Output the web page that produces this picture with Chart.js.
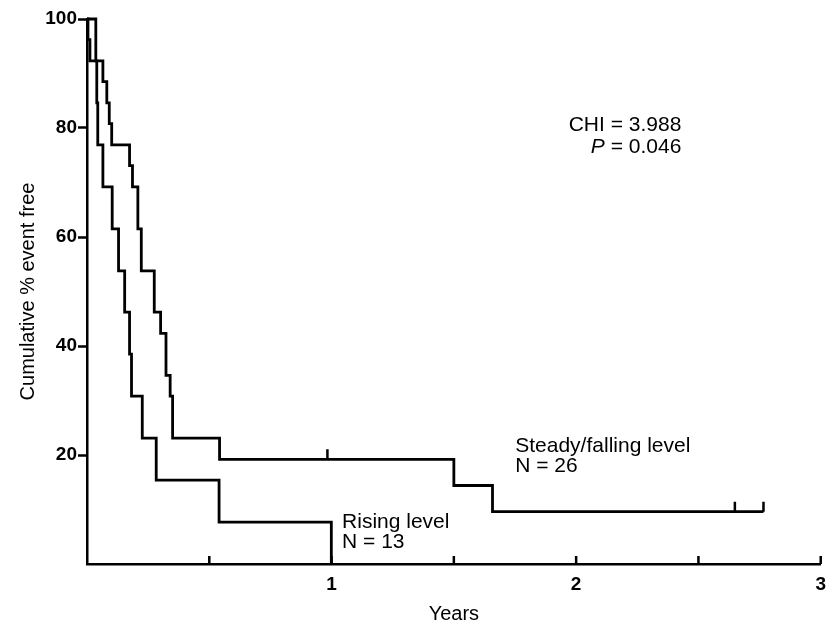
<!DOCTYPE html>
<html>
<head>
<meta charset="utf-8">
<script src="https://cdn.jsdelivr.net/npm/chart.js@4.4.1/dist/chart.umd.min.js"></script>
<style>
  html, body { margin: 0; padding: 0; background: #fff; }
  #km { display: block; }
</style>
</head>
<body>
<canvas id="km" width="835" height="629"></canvas>
<script>
// Kaplan-Meier steps: time in years, cumulative % event free
const steadyYears = [0, 0.004, 0.012, 0.065, 0.081, 0.091, 0.101, 0.174, 0.186, 0.208, 0.222, 0.275, 0.301, 0.323, 0.340, 0.350, 0.542, 1.500, 1.658, 2.766];
const steadyPct   = [100, 96.2, 92.3, 88.5, 84.6, 80.8, 76.9, 73.1, 69.2, 61.5, 53.8, 46.2, 42.3, 34.6, 30.8, 23.1, 19.2, 14.4, 9.6, 9.6];

const risingYears = [0, 0.036, 0.040, 0.044, 0.065, 0.103, 0.129, 0.154, 0.174, 0.182, 0.226, 0.283, 0.540, 0.999];
const risingPct   = [100, 92.3, 84.6, 76.9, 69.2, 61.5, 53.8, 46.2, 38.5, 30.8, 23.1, 15.4, 7.7, 0];

// censored cases (small upward ticks on the steady/falling curve)
const censorYears = [0.983, 2.649, 2.766];
const censorPct   = [19.2, 9.6, 9.6];

const FONT = "'Liberation Sans', Arial, Helvetica, sans-serif";
Chart.defaults.font.family = FONT;
Chart.defaults.color = '#000';

// text placed in data units; each part is [text, italic]
const notes = [
  { x: 2.43, y: 79.4, align: 'right', parts: [['CHI = 3.988', false]] },
  { x: 2.43, y: 75.4, align: 'right', parts: [['P', true], [' = 0.046', false]] },
  { x: 1.751, y: 20.6, align: 'left', parts: [['Steady/falling level', false]] },
  { x: 1.751, y: 16.9, align: 'left', parts: [['N = 26', false]] },
  { x: 1.043, y: 6.6, align: 'left', parts: [['Rising level', false]] },
  { x: 1.043, y: 2.9, align: 'left', parts: [['N = 13', false]] },
];

function toPoints(xs, ys) {
  return xs.map((t, i) => ({ x: t, y: ys[i] }));
}

const kmExtras = {
  id: 'kmExtras',
  afterDatasetsDraw(chart) {
    const { ctx, scales: { x, y } } = chart;
    ctx.save();
    ctx.strokeStyle = '#000';
    ctx.lineWidth = 2.5;
    ctx.beginPath();
    // x ticks point up into the plot
    x.ticks.forEach((t) => {
      if (t.value === 0) return;
      const px = x.getPixelForValue(t.value);
      ctx.moveTo(px, y.bottom);
      ctx.lineTo(px, y.bottom - 8);
    });
    censorYears.forEach((t, i) => {
      const px = x.getPixelForValue(t);
      const py = y.getPixelForValue(censorPct[i]);
      ctx.moveTo(px, py);
      ctx.lineTo(px, py - 10);
    });
    ctx.stroke();

    ctx.fillStyle = '#000';
    ctx.textBaseline = 'alphabetic';
    ctx.textAlign = 'left';
    notes.forEach((n) => {
      const fonts = n.parts.map((p) => (p[1] ? 'italic ' : '') + '21px ' + FONT);
      const widths = n.parts.map((p, i) => { ctx.font = fonts[i]; return ctx.measureText(p[0]).width; });
      const total = widths.reduce((a, b) => a + b, 0);
      let px = x.getPixelForValue(n.x);
      if (n.align === 'right') px -= total;
      const py = y.getPixelForValue(n.y);
      n.parts.forEach((p, i) => {
        ctx.font = fonts[i];
        ctx.fillText(p[0], px, py);
        px += widths[i];
      });
    });
    ctx.restore();
  },
};

const lineStyle = {
  borderColor: '#000',
  borderWidth: 2.8,
  stepped: 'before',
  pointRadius: 0,
  fill: false,
  clip: false,
  borderJoinStyle: 'miter',
};

new Chart(document.getElementById('km'), {
  type: 'line',
  data: {
    datasets: [
      { label: 'Steady/falling level', data: toPoints(steadyYears, steadyPct), ...lineStyle },
      { label: 'Rising level', data: toPoints(risingYears, risingPct), ...lineStyle },
    ],
  },
  options: {
    responsive: false,
    animation: false,
    layout: { padding: { top: 19, right: 6, left: 0, bottom: 0 } },
    plugins: { legend: { display: false }, tooltip: { enabled: false } },
    scales: {
      x: {
        type: 'linear',
        min: 0,
        max: 3,
        grid: { display: false, drawTicks: false },
        border: { display: true, color: '#000', width: 2.5 },
        ticks: {
          stepSize: 0.5,
          autoSkip: false,
          maxRotation: 0,
          padding: 9,
          font: { size: 19, weight: 'bold' },
          callback: (v) => (Number.isInteger(v) && v > 0 ? String(v) : ''),
        },
        title: {
          display: true,
          text: 'Years',
          font: { size: 20 },
          padding: { top: 0, bottom: 3 },
        },
        afterFit: (s) => { s.height = 65; },
      },
      y: {
        min: 0,
        max: 100,
        grid: {
          drawOnChartArea: false,
          drawTicks: true,
          tickLength: 9,
          tickWidth: 2.5,
          tickColor: (c) => (c.tick && c.tick.value === 0 ? 'rgba(0,0,0,0)' : '#000'),
        },
        border: { display: true, color: '#000', width: 2.5 },
        ticks: {
          stepSize: 20,
          padding: 1,
          font: { size: 19, weight: 'bold' },
          callback: (v) => (v === 0 ? '' : v),
        },
        title: {
          display: true,
          text: 'Cumulative % event free',
          font: { size: 20 },
          padding: { top: 16, bottom: 0 },
        },
        afterFit: (s) => { s.width = 87; },
      },
    },
  },
  plugins: [kmExtras],
});
</script>
</body>
</html>
